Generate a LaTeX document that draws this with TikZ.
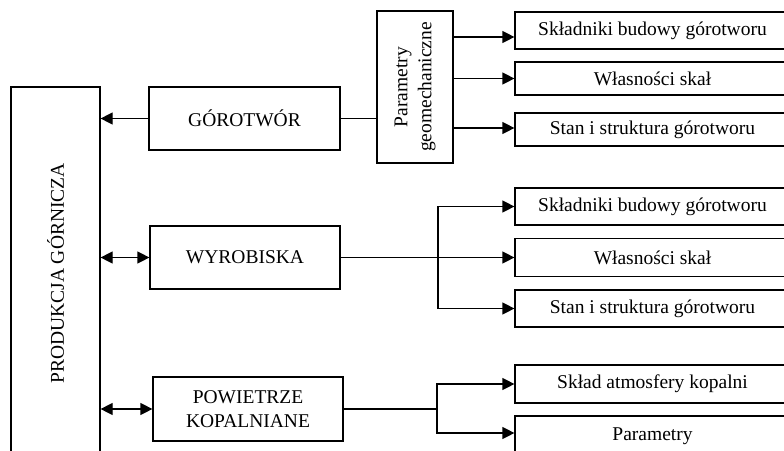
\documentclass[tikz,border=0pt]{standalone}
\usepackage{fontspec}
\setmainfont{Liberation Serif}
\usetikzlibrary{arrows.meta}
\tikzstyle{mining_box}=[draw=black, line width=1.2pt, align=center, inner sep=0pt,
    font=\fontsize{19.5}{24}\selectfont]
\tikzstyle{mining_link}=[line width=1.2pt]
\tikzstyle{mining_arrow}=[line width=1.2pt, -{Triangle[length=12pt,width=12pt]}]
\tikzstyle{mining_both}=[line width=1.2pt,
    {Triangle[length=12pt,width=12pt]}-{Triangle[length=12pt,width=12pt]}]

\begin{document}
\begin{tikzpicture}[x=1pt, y=-1pt]
  % Picture frame, the right and bottom boxes run off the edge
  \useasboundingbox (0,0) rectangle (784,450);
  \clip (0,0) rectangle (784,450);

  % Main block on the left
  \node[mining_box, rotate=90, minimum width=373pt, minimum height=89pt] (produkcja) at (55.5,273.5) {PRODUKCJA GÓRNICZA};

  % Middle column
  \node[mining_box, minimum width=191pt, minimum height=63pt] (gorotwor) at (244.5,118.5) {GÓROTWÓR};
  \node[mining_box, minimum width=190pt, minimum height=63pt] (wyrobiska) at (245,257.5) {WYROBISKA};
  \node[mining_box, minimum width=190pt, minimum height=64pt] (powietrze) at (248,409) {POWIETRZE\\KOPALNIANE};
  \node[mining_box, rotate=90, minimum width=152pt, minimum height=76pt] (parametry) at (415,87) {Parametry\\geomechaniczne};

  % Right column, first group
  \node[mining_box, minimum width=275pt, minimum height=37pt] (g_sklad) at (652.5,30.5) {Składniki budowy górotworu};
  \node[mining_box, minimum width=275pt, minimum height=33pt] (g_wlasn) at (652.5,78.5) {Własności skał};
  \node[mining_box, minimum width=275pt, minimum height=33pt] (g_stan) at (652.5,129.5) {Stan i struktura górotworu};

  % Right column, second group
  \node[mining_box, minimum width=275pt, minimum height=37pt] (w_sklad) at (652.5,206.5) {Składniki budowy górotworu};
  \node[mining_box, minimum width=275pt, minimum height=38pt] (w_wlasn) at (652.5,257.5) {Własności skał};
  \node[mining_box, minimum width=275pt, minimum height=37pt] (w_stan) at (652.5,308.5) {Stan i struktura górotworu};

  % Right column, third group
  \node[mining_box, minimum width=275pt, minimum height=38pt] (p_sklad) at (652.5,384) {Skład atmosfery kopalni};
  \node[mining_box, minimum width=275pt, minimum height=40pt] (p_param) at (652.5,436) {Parametry};

  % Branch points
  \coordinate (w_branch) at (438,257.5);
  \coordinate (p_branch) at (437,409);

  % Links to the main block
  \draw[mining_arrow] (gorotwor.west) -- (gorotwor.west -| produkcja.south);
  \draw[mining_both] (wyrobiska.west -| produkcja.south) -- (wyrobiska.west);
  \draw[mining_both] (powietrze.west -| produkcja.south) -- (powietrze.west);

  % Rock mass
  \draw[mining_link] (gorotwor.east) -- (gorotwor.east -| parametry.north);
  \draw[mining_arrow] ([yshift=-6.5pt]g_sklad.west -| parametry.south) -- ([yshift=-6.5pt]g_sklad.west);
  \draw[mining_arrow] (g_wlasn.west -| parametry.south) -- (g_wlasn.west);
  \draw[mining_arrow] ([yshift=1.5pt]g_stan.west -| parametry.south) -- ([yshift=1.5pt]g_stan.west);

  % Workings
  \draw[mining_arrow] (wyrobiska.east) -- (wyrobiska.east -| w_wlasn.west);
  \draw[mining_arrow] (w_branch) |- (w_sklad.west);
  \draw[mining_arrow] (w_branch) |- (w_stan.west);

  % Mine air
  \draw[mining_link] (powietrze.east) -- (p_branch);
  \draw[mining_arrow] (p_branch) |- (p_sklad.west);
  \draw[mining_arrow] (p_branch) |- ([yshift=3pt]p_param.west);

\end{tikzpicture}
\end{document}
